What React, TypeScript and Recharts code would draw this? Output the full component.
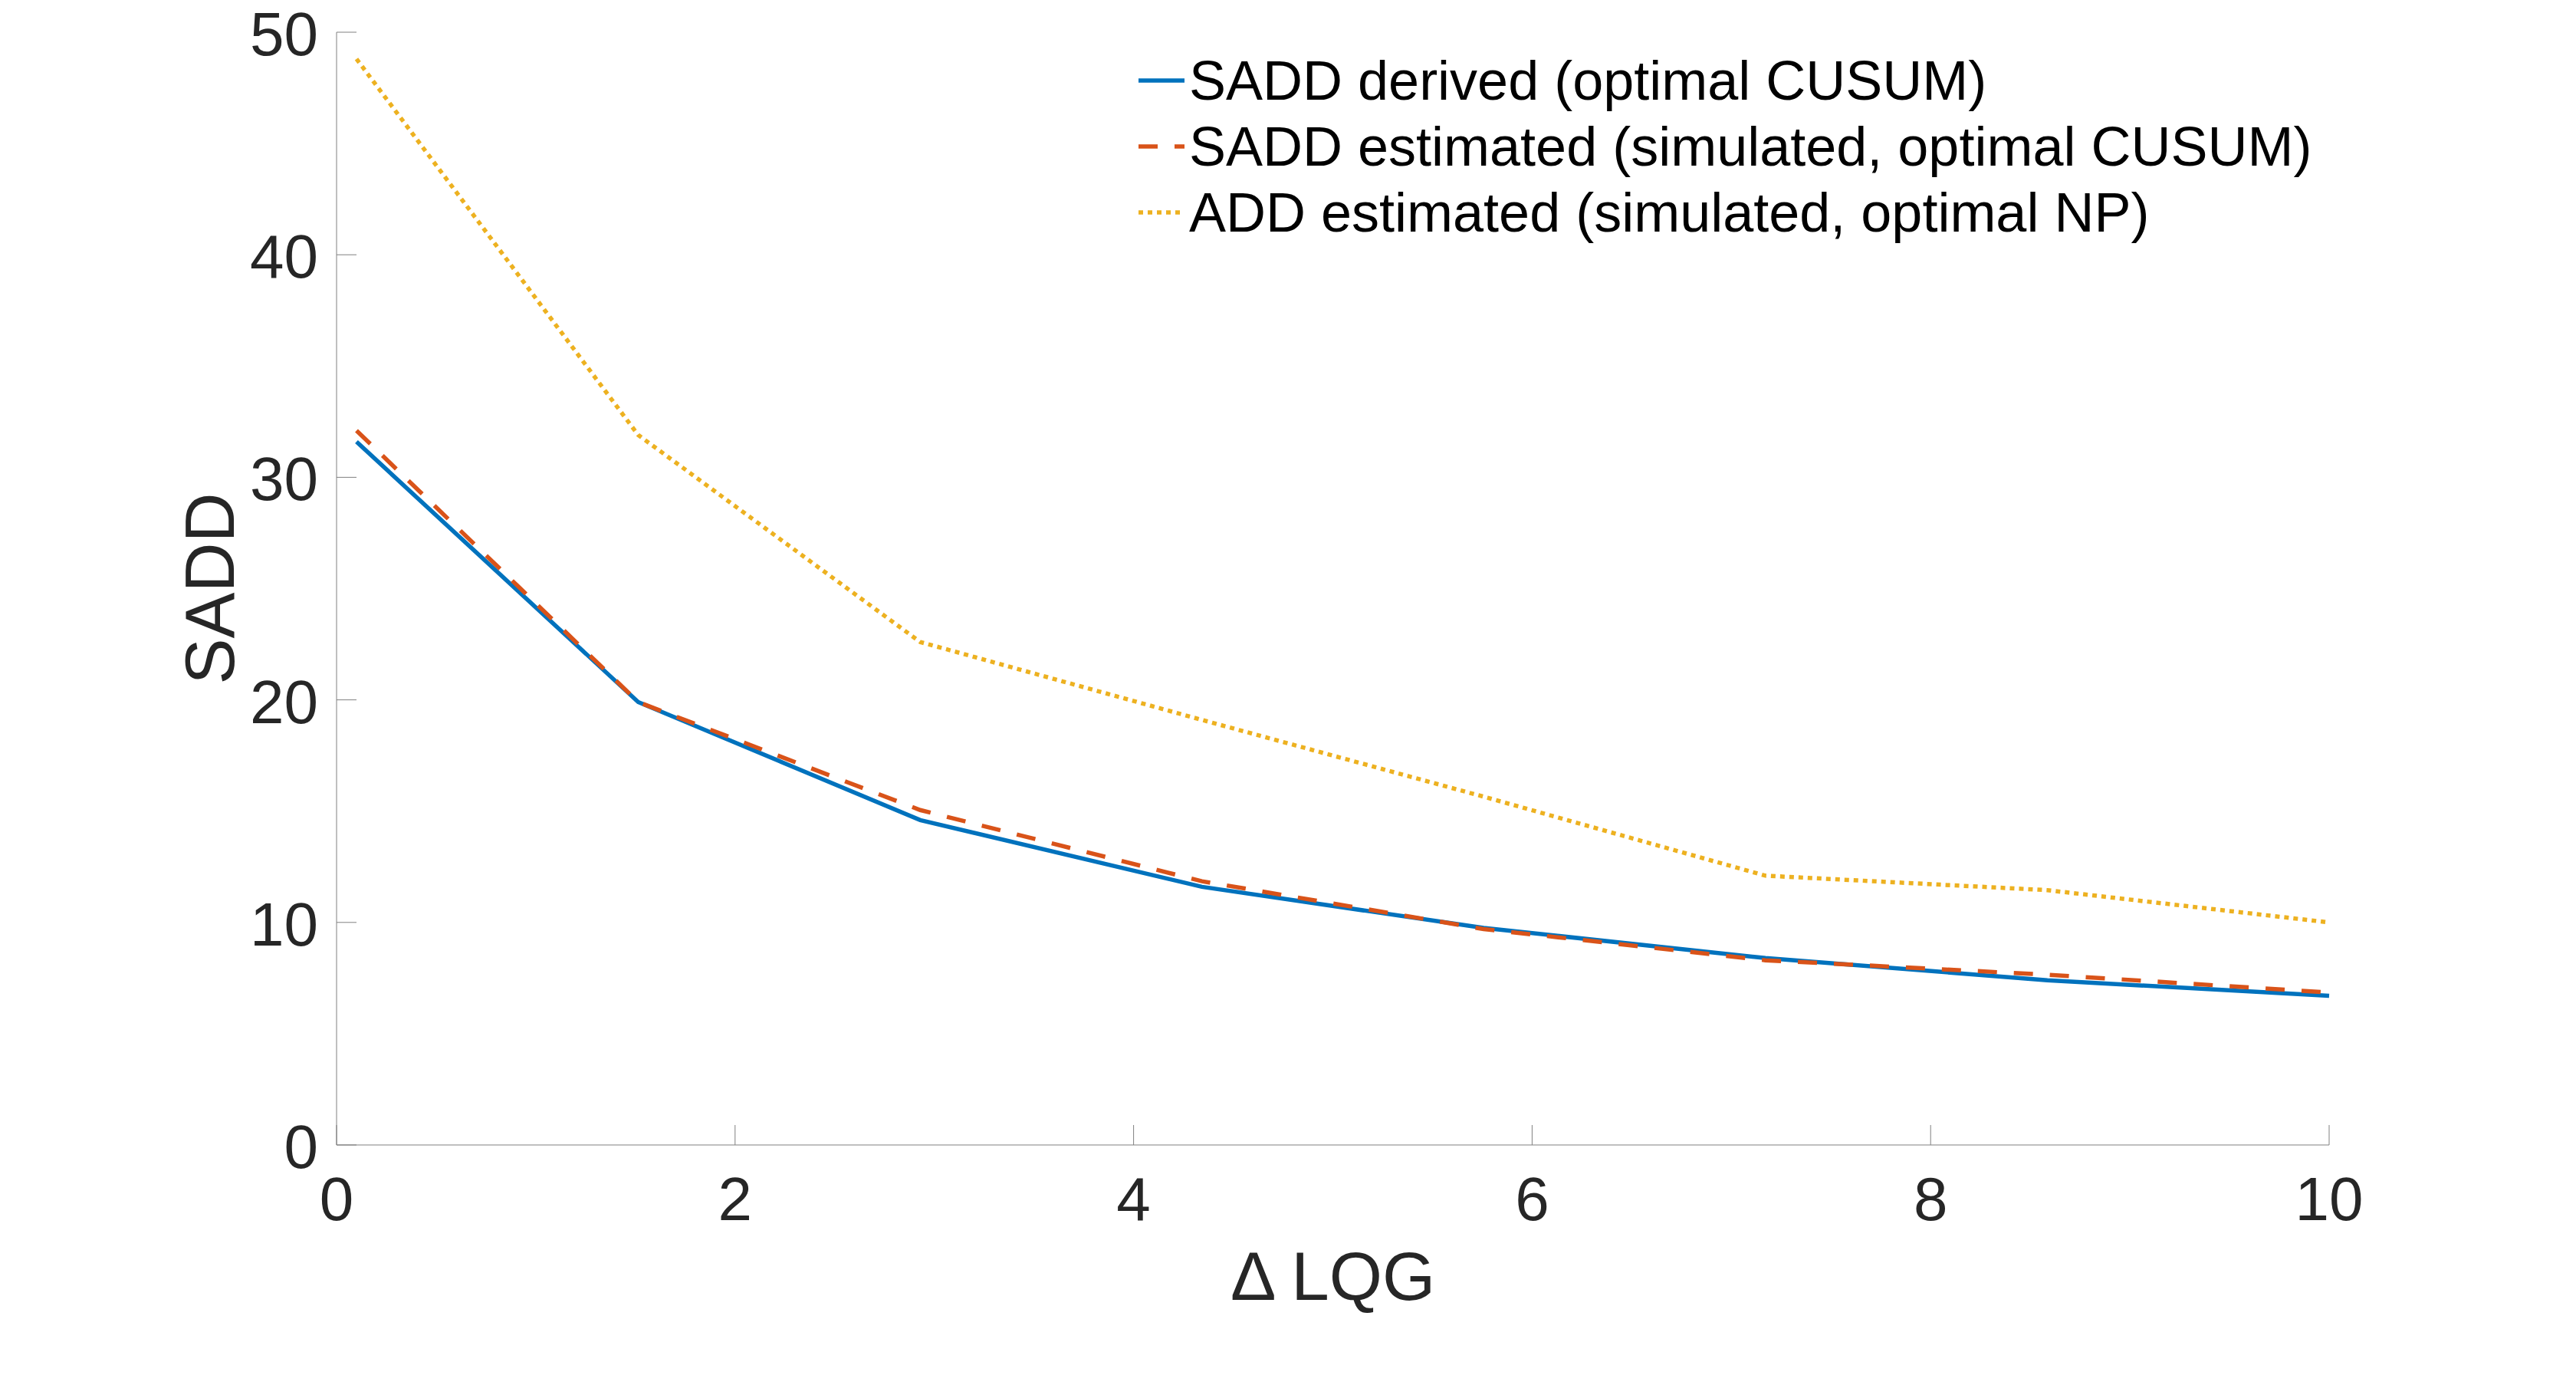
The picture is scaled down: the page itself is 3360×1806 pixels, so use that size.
import React from 'react';
import { LineChart, Line, XAxis, YAxis, Legend, Label } from 'recharts';

// ---- data ----
const deltaLQG = [0.1, 1.514, 2.929, 4.343, 5.757, 7.171, 8.586, 10];
const saddDerived = [31.6, 19.9, 14.6, 11.6, 9.75, 8.4, 7.4, 6.7];
const saddEstimated = [32.1, 19.9, 15.05, 11.85, 9.7, 8.3, 7.65, 6.85];
const addEstimated = [48.8, 31.9, 22.6, 19.1, 15.65, 12.1, 11.45, 10.0];

const xTicks = [0, 2, 4, 6, 8, 10];
const yTicks = [0, 10, 20, 30, 40, 50];

const seriesKeys = ['derived', 'estimated', 'np'];
const seriesNames = [
  'SADD derived (optimal CUSUM)',
  'SADD estimated (simulated, optimal CUSUM)',
  'ADD estimated (simulated, optimal NP)',
];
const seriesColors = ['#0072BD', '#D95319', '#EDB120'];
const seriesDashes = [undefined, '25 22', '6 6'];

const xLabel = '\u0394 LQG';
const yLabel = 'SADD';

// ---- styles ----
const FONT = '"Liberation Sans", Arial, Helvetica, sans-serif';
const AXIS_COLOR = '#808080';
const TEXT_COLOR = '#262626';

const tableData = deltaLQG.map((x, i) => ({
  x,
  derived: saddDerived[i],
  estimated: saddEstimated[i],
  np: addEstimated[i],
}));

const XTick = (props: any) => {
  const { x, y, payload } = props;
  return (
    <g>
      <line x1={x} y1={y} x2={x} y2={y - 26} stroke={AXIS_COLOR} strokeWidth={1} />
      <text x={x} y={y + 98} textAnchor="middle" fontFamily={FONT} fontSize={80} fill={TEXT_COLOR}>
        {payload.value}
      </text>
    </g>
  );
};

const YTick = (props: any) => {
  const { x, y, payload } = props;
  return (
    <g>
      <line x1={x} y1={y} x2={x + 26} y2={y} stroke={AXIS_COLOR} strokeWidth={1} />
      <text x={x - 24} y={y + 30} textAnchor="end" fontFamily={FONT} fontSize={80} fill={TEXT_COLOR}>
        {payload.value}
      </text>
    </g>
  );
};

const LegendContent = () => (
  <div style={{ fontFamily: FONT, fontSize: 72, color: '#000' }}>
    {seriesNames.map((n, i) => (
      <div
        key={n}
        style={{ display: 'flex', alignItems: 'center', height: 86, lineHeight: '86px', whiteSpace: 'nowrap' }}
      >
        <svg width={60} height={10} style={{ marginRight: 6, display: 'block' }}>
          <line
            x1={0}
            y1={5}
            x2={60}
            y2={5}
            stroke={seriesColors[i]}
            strokeWidth={5.5}
            strokeDasharray={seriesDashes[i]}
          />
        </svg>
        <span>{n}</span>
      </div>
    ))}
  </div>
);

export default function App() {
  return (
    <div style={{ position: 'absolute', left: 0, top: 0, width: 3360, height: 1806, background: '#fff' }}>
      <LineChart
        width={3360}
        height={1806}
        data={tableData}
        margin={{ top: 42, right: 322, bottom: 0, left: 0 }}
      >
        <XAxis
          dataKey="x"
          type="number"
          domain={[0, 10]}
          ticks={xTicks}
          interval={0}
          height={313}
          tickSize={0}
          tickMargin={0}
          tickLine={false}
          axisLine={{ stroke: AXIS_COLOR, strokeWidth: 1 }}
          tick={<XTick />}
        >
          <Label
            content={(p: any) => {
              const vb = p.viewBox || {};
              return (
                <text
                  x={vb.x + vb.width / 2}
                  y={vb.y + 202}
                  textAnchor="middle"
                  fontFamily={FONT}
                  fontSize={89}
                  fill={TEXT_COLOR}
                >
                  {xLabel}
                </text>
              );
            }}
          />
        </XAxis>
        <YAxis
          type="number"
          domain={[0, 50]}
          ticks={yTicks}
          interval={0}
          width={439}
          tickSize={0}
          tickMargin={0}
          tickLine={false}
          axisLine={{ stroke: AXIS_COLOR, strokeWidth: 1 }}
          tick={<YTick />}
        >
          <Label
            content={(p: any) => {
              const vb = p.viewBox || {};
              const cx = vb.x + 305;
              const cy = vb.y + vb.height / 2;
              return (
                <text
                  x={cx}
                  y={cy}
                  transform={`rotate(-90, ${cx}, ${cy})`}
                  textAnchor="middle"
                  fontFamily={FONT}
                  fontSize={90}
                  fill={TEXT_COLOR}
                >
                  {yLabel}
                </text>
              );
            }}
          />
        </YAxis>
        <Legend
          layout="vertical"
          align="center"
          verticalAlign="middle"
          content={<LegendContent />}
          wrapperStyle={{ left: 1485, top: 62, width: 'auto', height: 'auto' }}
        />
        {seriesKeys.map((k, i) => (
          <Line
            key={k}
            dataKey={k}
            name={seriesNames[i]}
            type="linear"
            stroke={seriesColors[i]}
            strokeWidth={5.5}
            strokeDasharray={seriesDashes[i]}
            strokeLinecap="butt"
            dot={false}
            activeDot={false}
            isAnimationActive={false}
          />
        ))}
      </LineChart>
    </div>
  );
}
